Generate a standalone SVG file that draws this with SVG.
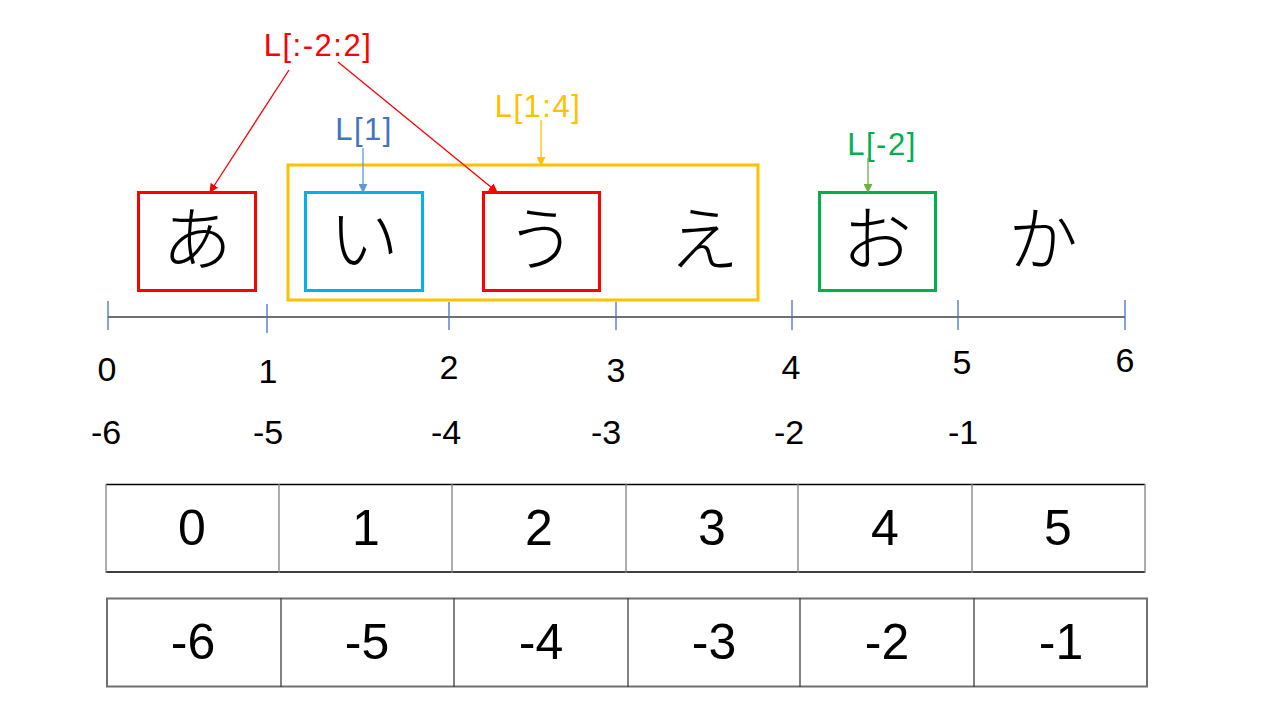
<svg xmlns="http://www.w3.org/2000/svg" width="1280" height="720" viewBox="0 0 1280 720">
<defs>
<style>
.t{font-family:"Liberation Sans","Noto Sans CJK JP",sans-serif;text-anchor:middle}
.kana{font-family:"Noto Sans CJK JP",sans-serif;font-size:70px;font-weight:300;text-anchor:middle;fill:#000}
.lbl{font-size:31px;letter-spacing:1.5px}
.num{font-size:34px;fill:#000}
.cell{font-size:50px;fill:#000}
.tick{stroke:#4472C4;stroke-width:1.3}
</style>
<marker id="aR" viewBox="0 0 10 10" refX="9" refY="5" markerWidth="9" markerHeight="9" markerUnits="userSpaceOnUse" orient="auto"><path d="M0,0L10,5L0,10z" fill="#FF0000"/></marker>
<marker id="aB" viewBox="0 0 10 10" refX="9" refY="5" markerWidth="9" markerHeight="9" markerUnits="userSpaceOnUse" orient="auto"><path d="M0,0L10,5L0,10z" fill="#5B9BD5"/></marker>
<marker id="aY" viewBox="0 0 10 10" refX="9" refY="5" markerWidth="9" markerHeight="9" markerUnits="userSpaceOnUse" orient="auto"><path d="M0,0L10,5L0,10z" fill="#FFC000"/></marker>
<marker id="aG" viewBox="0 0 10 10" refX="9" refY="5" markerWidth="9" markerHeight="9" markerUnits="userSpaceOnUse" orient="auto"><path d="M0,0L10,5L0,10z" fill="#70AD47"/></marker>
</defs>
<rect width="1280" height="720" fill="#fff"/>

<g id="slice-box">
<rect x="288" y="165" width="470" height="135" fill="none" stroke="#FFC000" stroke-width="3"/>
</g>
<g id="node-a">
<rect x="138.5" y="192.5" width="117" height="98" fill="none" stroke="#FF0000" stroke-width="3"/>
<text class="kana" x="197" y="265">あ</text>
</g>
<g id="node-i">
<rect x="305.5" y="192.5" width="117" height="98" fill="none" stroke="#00B0F0" stroke-width="3"/>
<text class="kana" x="364" y="265">い</text>
</g>
<g id="node-u">
<rect x="483.5" y="192.5" width="116" height="98" fill="none" stroke="#FF0000" stroke-width="3"/>
<text class="kana" x="541" y="265">う</text>
</g>
<g id="node-e">
<text class="kana" x="704" y="265">え</text>
</g>
<g id="node-o">
<rect x="819.5" y="192.5" width="116" height="98" fill="none" stroke="#00B050" stroke-width="3"/>
<text class="kana" x="877" y="265">お</text>
</g>
<g id="node-ka">
<text class="kana" x="1043" y="265">か</text>
</g>

<g id="labels">
<text class="t lbl" x="318" y="56" fill="#FF0000">L[:-2:2]</text>
<text class="t lbl" x="364" y="140" fill="#4472C4">L[1]</text>
<text class="t lbl" x="538" y="117" fill="#FFC000">L[1:4]</text>
<text class="t lbl" x="882" y="155" fill="#00B050">L[-2]</text>
</g>

<g id="connectors" fill="none" stroke-width="1.3">
<line x1="289" y1="70" x2="210" y2="192" stroke="#FF0000" marker-end="url(#aR)"/>
<line x1="338" y1="62" x2="497" y2="192" stroke="#FF0000" marker-end="url(#aR)"/>
<line x1="363" y1="148" x2="363" y2="192" stroke="#5B9BD5" marker-end="url(#aB)"/>
<line x1="541" y1="120" x2="541" y2="165" stroke="#FFC000" marker-end="url(#aY)"/>
<line x1="868" y1="158" x2="868" y2="192" stroke="#70AD47" marker-end="url(#aG)"/>
</g>

<g id="number-line">
<line x1="108" y1="317" x2="1125" y2="317" stroke="#404040" stroke-width="1.3"/>
<line class="tick" x1="108" y1="301" x2="108" y2="330"/>
<line class="tick" x1="267" y1="304" x2="267" y2="333"/>
<line class="tick" x1="449" y1="302" x2="449" y2="330"/>
<line class="tick" x1="616" y1="302" x2="616" y2="330"/>
<line class="tick" x1="792" y1="300" x2="792" y2="330"/>
<line class="tick" x1="958" y1="300" x2="958" y2="330"/>
<line class="tick" x1="1125" y1="300" x2="1125" y2="330"/>
<text class="t num" x="107" y="381">0</text>
<text class="t num" x="268" y="383">1</text>
<text class="t num" x="449" y="379">2</text>
<text class="t num" x="616" y="382">3</text>
<text class="t num" x="791" y="379">4</text>
<text class="t num" x="962" y="374">5</text>
<text class="t num" x="1125" y="372">6</text>
<text class="t num" x="106" y="444">-6</text>
<text class="t num" x="268" y="444">-5</text>
<text class="t num" x="446" y="444">-4</text>
<text class="t num" x="606" y="444">-3</text>
<text class="t num" x="789" y="444">-2</text>
<text class="t num" x="963" y="444">-1</text>
</g>

<g id="table-pos">
<line x1="106" y1="484.5" x2="1145" y2="484.5" stroke="#000" stroke-width="1.3"/>
<line x1="106" y1="572" x2="1145" y2="572" stroke="#000" stroke-width="1.3"/>
<g stroke="#808080" stroke-width="1.3">
<line x1="106" y1="484" x2="106" y2="573"/>
<line x1="279" y1="484" x2="279" y2="573"/>
<line x1="452" y1="484" x2="452" y2="573"/>
<line x1="626" y1="484" x2="626" y2="573"/>
<line x1="798" y1="484" x2="798" y2="573"/>
<line x1="972" y1="484" x2="972" y2="573"/>
<line x1="1145" y1="484" x2="1145" y2="573"/>
</g>
<text class="t cell" x="192" y="545">0</text>
<text class="t cell" x="366" y="545">1</text>
<text class="t cell" x="539" y="545">2</text>
<text class="t cell" x="712" y="545">3</text>
<text class="t cell" x="885" y="545">4</text>
<text class="t cell" x="1058" y="545">5</text>
</g>

<g id="table-neg">
<rect x="107" y="598.5" width="1040" height="88" fill="none" stroke="#707070" stroke-width="2"/>
<g stroke="#404040" stroke-width="1.3">
<line x1="281" y1="598" x2="281" y2="687"/>
<line x1="454" y1="598" x2="454" y2="687"/>
<line x1="628" y1="598" x2="628" y2="687"/>
<line x1="800" y1="598" x2="800" y2="687"/>
<line x1="974" y1="598" x2="974" y2="687"/>
</g>
<text class="t cell" x="193" y="659">-6</text>
<text class="t cell" x="367" y="659">-5</text>
<text class="t cell" x="541" y="659">-4</text>
<text class="t cell" x="714" y="659">-3</text>
<text class="t cell" x="887" y="659">-2</text>
<text class="t cell" x="1061" y="659">-1</text>
</g>
</svg>
